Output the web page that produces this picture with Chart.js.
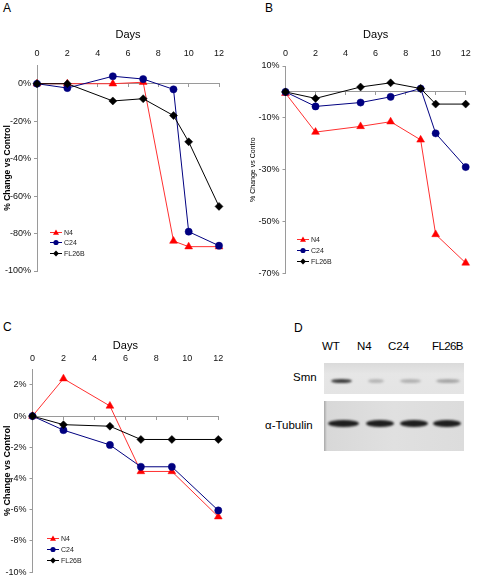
<!DOCTYPE html>
<html>
<head>
<meta charset="utf-8">
<script src="https://cdn.jsdelivr.net/npm/chart.js@4.4.0/dist/chart.umd.min.js"></script>
<style>
  body { margin: 0; background: #fff; font-family: "Liberation Sans", Arial, sans-serif; color: #000; }
  #page { position: relative; width: 478px; height: 580px; overflow: hidden; }
  canvas, .abs { position: absolute; }
  .letter { font-size: 12px; }
  .leg { position: absolute; height: 9px; font-size: 7px; line-height: 9px; white-space: nowrap; color: #222; }
  .leg svg { vertical-align: top; margin-right: 2px; }
  .blot { position: absolute; }
  .band { position: absolute; border-radius: 50%; filter: blur(1.2px); }
  .dlab { position: absolute; font-size: 11.5px; line-height: 14px; white-space: nowrap; }
</style>
</head>
<body>
<div id="page">
  <div class="abs letter" style="left:3px;top:1px">A</div>
  <div class="abs letter" style="left:265px;top:1px">B</div>
  <div class="abs letter" style="left:3px;top:320px">C</div>
  <div class="abs letter" style="left:294px;top:321px">D</div>

  <canvas id="chartA" width="240" height="300" style="left:0;top:0"></canvas>
  <canvas id="chartB" width="238" height="300" style="left:240px;top:0"></canvas>
  <canvas id="chartC" width="240" height="280" style="left:0;top:300px"></canvas>

  <div id="legA"></div>
  <div id="legB"></div>
  <div id="legC"></div>

  <div id="blot"></div>
</div>

<script>
"use strict";

// days on the x axis
const days = [0, 2, 5, 7, 9, 10, 12];
const daysC = [0, 2, 5, 7, 9, 12];
const dayTicks = [0, 2, 4, 6, 8, 10, 12];
const seriesNames = ["N4", "C24", "FL26B"];

// panel A
const n4A = [0, 0, 0, 0.8, -84, -87, -87];
const c24A = [0, -2.3, 4, 2.5, -3, -79, -86.5];
const fl26bA = [0, 0, -9.2, -8, -17, -31, -65.5];
const yTicksA = [0, -20, -40, -60, -80, -100];

// panel B
const n4B = [-0.5, -15.5, -13.3, -11.5, -18.5, -55, -66];
const c24B = [0, -5.6, -4.1, -1.9, 1.3, -16, -29];
const fl26bB = [0, -2.5, 1.9, 3.5, 1.3, -4.7, -4.7];
const yTicksB = [10, -10, -30, -50, -70];

// panel C
const n4C = [0, 2.4, 0.65, -3.55, -3.55, -6.45];
const c24C = [0, -0.9, -1.85, -3.25, -3.25, -6.05];
const fl26bC = [0, -0.55, -0.65, -1.5, -1.5, -1.5];
const yTicksC = [2, 0, -2, -4, -6, -8, -10];

// blot
const lanes = ["WT", "N4", "C24", "FL26B"];

const styles = [
  { color: "#ff0000", line: "#ff3030", pointStyle: "triangle", radius: 4.5, order: 3 },
  { color: "#000080", line: "#000080", pointStyle: "circle", radius: 3.6, order: 2 },
  { color: "#000000", line: "#000000", pointStyle: "rectRot", radius: 4, order: 1 }
];

function toPoints(xs, ys) {
  return xs.map((x, i) => ({ x: x, y: ys[i] }));
}

function makeChart(id, xs, series, yTicks, g) {
  const datasets = series.map((vals, i) => ({
    label: seriesNames[i],
    data: toPoints(xs, vals),
    borderColor: styles[i].line,
    borderWidth: 1,
    backgroundColor: styles[i].color,
    pointBackgroundColor: styles[i].color,
    pointBorderColor: styles[i].color,
    pointBorderWidth: 0.5,
    pointStyle: styles[i].pointStyle,
    pointRadius: styles[i].radius,
    order: styles[i].order,
    clip: false,
    tension: 0
  }));

  new Chart(document.getElementById(id), {
    type: "line",
    data: { datasets: datasets },
    options: {
      responsive: false,
      animation: false,
      layout: { padding: { left: 0, top: 0, right: g.padR, bottom: g.padB } },
      plugins: { legend: { display: false }, tooltip: { enabled: false } },
      scales: {
        x: {
          type: "linear", position: "top", min: 0, max: 12,
          afterBuildTicks: s => { s.ticks = dayTicks.map(v => ({ value: v })); },
          afterFit: s => { s.height = g.xh; },
          grid: { display: false, drawTicks: false },
          border: { display: false },
          ticks: { padding: g.xpad, color: "#111", maxRotation: 0, autoSkip: false, font: { size: 9, lineHeight: 1.1 } },
          title: { display: true, text: "Days", color: "#000", padding: { top: g.dayPad, bottom: 0 }, font: { size: 11 } }
        },
        zero: {
          type: "linear", axis: "x", position: { y: 0 }, min: 0, max: 12,
          afterBuildTicks: s => { s.ticks = dayTicks.map(v => ({ value: v })); },
          grid: { drawOnChartArea: false, drawTicks: true, tickLength: 3, color: "#9a9a9a" },
          border: { color: "#9a9a9a", width: 1 },
          ticks: { display: false }
        },
        y: {
          type: "linear", position: "left", min: g.min, max: g.max,
          afterBuildTicks: s => { s.ticks = yTicks.map(v => ({ value: v })); },
          afterFit: s => { s.width = g.yw; },
          grid: { drawOnChartArea: false, tickLength: 3, color: "#9a9a9a" },
          border: { color: "#9a9a9a", width: 1 },
          ticks: { padding: 3, color: "#111", font: { size: 9, lineHeight: 1.1 }, callback: v => v + "%" },
          title: { display: true, text: g.ytitle, color: "#000", padding: { top: g.ytPad, bottom: 0 }, font: g.ytFont }
        }
      }
    }
  });
}

function markerSvg(i) {
  const c = styles[i].color;
  let shape = "";
  if (i === 0) shape = '<polygon points="6,1.5 9,6.8 3,6.8" fill="' + c + '"/>';
  if (i === 1) shape = '<circle cx="6" cy="4.5" r="2.6" fill="' + c + '"/>';
  if (i === 2) shape = '<polygon points="6,1.6 8.9,4.5 6,7.4 3.1,4.5" fill="' + c + '"/>';
  return '<svg width="12" height="9"><line x1="0" y1="4.5" x2="12" y2="4.5" stroke="' + styles[i].line + '" stroke-width="1"/>' + shape + '</svg>';
}

function makeLegend(id, left, rows) {
  let html = "";
  seriesNames.forEach((name, i) => {
    html += '<div class="leg" style="left:' + left + 'px;top:' + (rows[i] - 4.5) + 'px">' + markerSvg(i) + name + '</div>';
  });
  document.getElementById(id).innerHTML = html;
}

function makeBlot() {
  const el = document.getElementById("blot");
  let html = "";
  const labX = [322, 357, 388, 432];
  lanes.forEach((name, i) => {
    const ls = name === "FL26B" ? "letter-spacing:-0.6px;" : "";
    html += '<div class="dlab" style="left:' + labX[i] + 'px;top:339px;' + ls + '">' + name + '</div>';
  });
  html += '<div class="dlab" style="left:293px;top:370px">Smn</div>';
  html += '<div class="dlab" style="left:265px;top:418px">&alpha;-Tubulin</div>';
  html += '<div class="blot" style="left:324px;top:363px;width:140px;height:31px;background:linear-gradient(#dadada,#e6e6e6 35%,#e4e4e4)"></div>';
  html += '<div class="blot" style="left:324px;top:401px;width:140px;height:50px;background:linear-gradient(90deg,#a8a8a8,#d8d8d8 3px,#e0e0e0 50%,#dcdcdc),#ddd"></div>';
  // smn bands
  const smn = [[331, 21, "#3c3c3c"], [368, 16, "#b6b6b6"], [400, 21, "#b2b2b2"], [436, 24, "#a6a6a6"]];
  smn.forEach(b => {
    html += '<div class="band" style="left:' + b[0] + 'px;top:379px;width:' + b[1] + 'px;height:4px;background:' + b[2] + '"></div>';
  });
  // tubulin bands
  const tub = [[328, 31], [366, 28], [400, 28], [433, 28]];
  tub.forEach(b => {
    html += '<div class="band" style="left:' + b[0] + 'px;top:420px;width:' + b[1] + 'px;height:7px;background:#1e1e1e"></div>';
  });
  el.innerHTML = html;
}

makeChart("chartA", days, [n4A, c24A, fl26bA], yTicksA, {
  min: -100, max: 10, xh: 65, yw: 37, padR: 21, padB: 29, xpad: 7, dayPad: 28,
  ytitle: "% Change vs Control", ytPad: 3, ytFont: { size: 8.5, weight: "bold" }
});
makeChart("chartB", days, [n4B, c24B, fl26bB], yTicksB, {
  min: -70, max: 10, xh: 66, yw: 45.5, padR: 8, padB: 26.7, xpad: 7.3, dayPad: 28,
  ytitle: "% Change vs Contro", ytPad: 9, ytFont: { size: 7 }
});
makeChart("chartC", daysC, [n4C, c24C, fl26bC], yTicksC, {
  min: -10, max: 3, xh: 69.3, yw: 32.5, padR: 21.7, padB: 5.3, xpad: 6.2, dayPad: 39,
  ytitle: "% Change vs Control", ytPad: 2.6, ytFont: { size: 9, weight: "bold" }
});

makeLegend("legA", 50, [232.3, 242.7, 253.3]);
makeLegend("legB", 297, [239.3, 250, 261]);
makeLegend("legC", 47, [538.3, 549, 560]);
makeBlot();
</script>
</body>
</html>
